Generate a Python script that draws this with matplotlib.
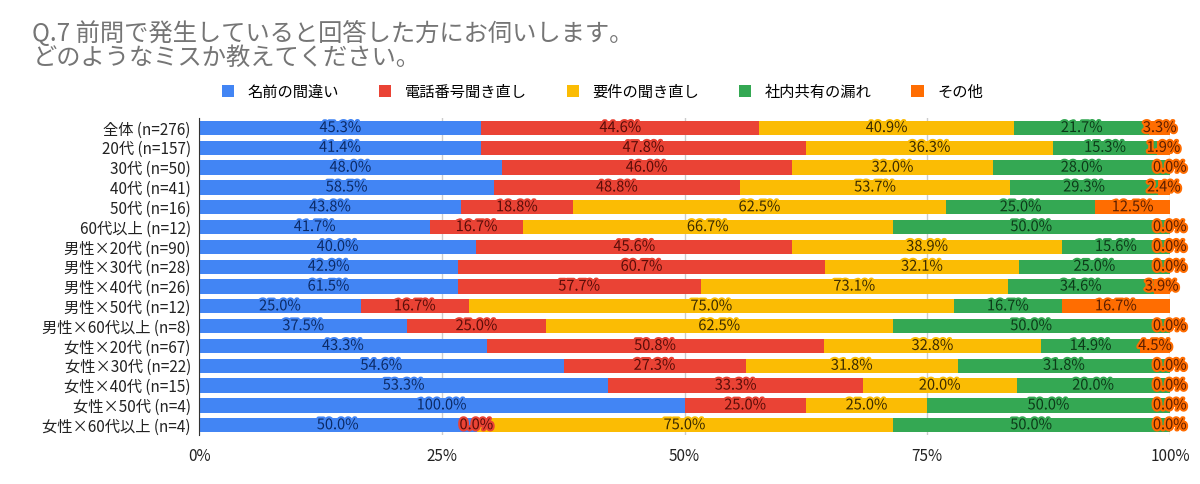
import matplotlib.pyplot as plt
import matplotlib.patheffects as pe
import numpy as np

plt.rcParams['font.family'] = ['Noto Sans CJK JP', 'DejaVu Sans']

categories = ['全体 (n=276)', '20代 (n=157)', '30代 (n=50)', '40代 (n=41)', '50代 (n=16)',
              '60代以上 (n=12)', '男性×20代 (n=90)', '男性×30代 (n=28)', '男性×40代 (n=26)',
              '男性×50代 (n=12)', '男性×60代以上 (n=8)', '女性×20代 (n=67)', '女性×30代 (n=22)',
              '女性×40代 (n=15)', '女性×50代 (n=4)', '女性×60代以上 (n=4)']
series_names = ['名前の間違い', '電話番号聞き直し', '要件の聞き直し', '社内共有の漏れ', 'その他']
name_err = [45.3, 41.4, 48.0, 58.5, 43.8, 41.7, 40.0, 42.9, 61.5, 25.0, 37.5, 43.3, 54.6, 53.3, 100.0, 50.0]
phone_again = [44.6, 47.8, 46.0, 48.8, 18.8, 16.7, 45.6, 60.7, 57.7, 16.7, 25.0, 50.8, 27.3, 33.3, 25.0, 0.0]
subject_again = [40.9, 36.3, 32.0, 53.7, 62.5, 66.7, 38.9, 32.1, 73.1, 75.0, 62.5, 32.8, 31.8, 20.0, 25.0, 75.0]
share_miss = [21.7, 15.3, 28.0, 29.3, 25.0, 50.0, 15.6, 25.0, 34.6, 16.7, 50.0, 14.9, 31.8, 20.0, 50.0, 50.0]
other = [3.3, 1.9, 0.0, 2.4, 12.5, 0.0, 0.0, 0.0, 3.9, 16.7, 0.0, 4.5, 0.0, 0.0, 0.0, 0.0]
colors = ['#4285F4', '#EA4335', '#FBBC04', '#34A853', '#FF6D01']
text_colors = ['#0b2a66', '#5a0d08', '#3a2a00', '#0c3a18', '#5a1e00']

# values are multi-answer percentages, bars show each one's share of the row total
data = np.array([name_err, phone_again, subject_again, share_miss, other])
totals = data.sum(axis=0)
shares = data / totals * 100

fig = plt.figure(figsize=(12, 4.84), dpi=100)
ax = fig.add_axes([0.166, 0.101, 0.809, 0.655])

y = np.arange(len(categories))
left = np.zeros(len(categories))
for i in range(len(series_names)):
    ax.barh(y, shares[i], left=left, height=0.72, color=colors[i], label=series_names[i], zorder=2)
    for j in range(len(categories)):
        ax.text(left[j] + shares[i][j] / 2, y[j], f'{data[i][j]:.1f}%', ha='center', va='center',
                fontsize=10.5, color=text_colors[i], zorder=4,
                path_effects=[pe.withStroke(linewidth=3, foreground=colors[i])])
    left += shares[i]

ax.set_xlim(0, 100)
ax.set_ylim(len(categories) - 0.5, -0.5)
ax.set_yticks(y)
ax.set_yticklabels(categories, fontsize=11, color='#222222')
ax.set_xticks([0, 25, 50, 75, 100])
ax.set_xticklabels(['0%', '25%', '50%', '75%', '100%'], fontsize=11, color='#222222')
ax.tick_params(length=0, pad=6)
ax.tick_params(axis='x', pad=9)
ax.grid(axis='x', color='#cccccc', linewidth=1, zorder=0)
for s in ['top', 'right', 'bottom']:
    ax.spines[s].set_visible(False)
ax.spines['left'].set_color('#333333')
ax.spines['left'].set_zorder(3)

fig.text(0.027, 0.905, 'Q.7 前問で発生していると回答した方にお伺いします。\nどのようなミスか教えてください。',
         fontsize=17.5, color='#757575', va='center', linespacing=0.88)

fig.legend(loc='center', bbox_to_anchor=(0.502, 0.81), ncol=5, frameon=False, fontsize=11,
           handlelength=0.8, handleheight=0.8, columnspacing=2.6, handletextpad=0.9)

plt.savefig('out.png', dpi=100)
